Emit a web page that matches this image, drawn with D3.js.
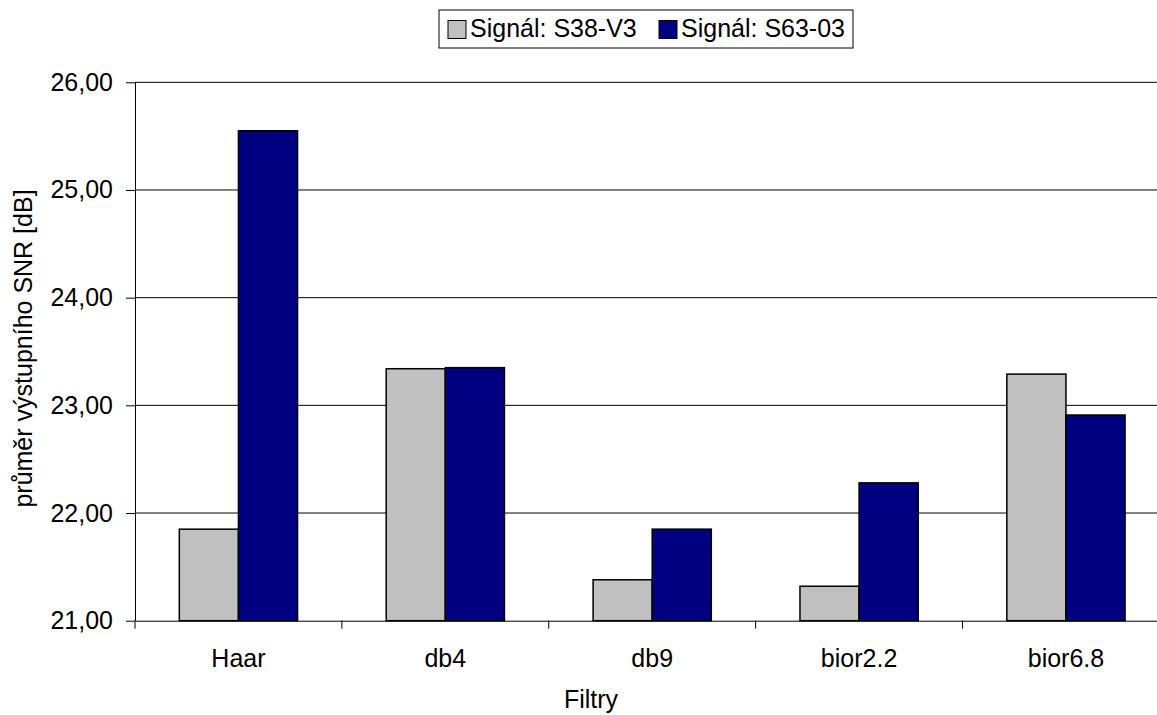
<!DOCTYPE html>
<html>
<head>
<meta charset="utf-8">
<script src="https://cdn.jsdelivr.net/npm/d3@7"></script>
<style>
    body { margin: 0; background: #fff; }
    svg { display: block; font-family: "Liberation Sans", Arial, sans-serif; }
    .axis text { font-size: 25px; fill: #000; }
</style>
</head>
<body>
<div id="chart"></div>
<script>
let categories = ["Haar", "db4", "db9", "bior2.2", "bior6.8"];
let seriesNames = ["Signál: S38-V3", "Signál: S63-03"];
let valuesS38 = [21.85, 23.34, 21.38, 21.32, 23.29];
let valuesS63 = [25.55, 23.35, 21.85, 22.28, 22.91];
let yTicks = [21, 22, 23, 24, 25, 26];
let colors = ["#c0c0c0", "#000080"];

let width = 1157;
let height = 715;
let margin = { left: 135, top: 82.3 };
let plotWidth = 1034.4;
let plotHeight = 538.4;

let svg = d3.select("#chart")
    .append("svg")
    .attr("width", width)
    .attr("height", height);

let dataset = categories.map((c, i) => ({
    cat: c,
    values: [valuesS38[i], valuesS63[i]]
}));

let xScale = d3.scaleBand()
    .domain(categories)
    .range([margin.left, margin.left + plotWidth]);

// gap width 150% like excel
let inner = d3.scaleBand()
    .domain([0, 1])
    .range([0, xScale.bandwidth()])
    .paddingInner(0)
    .paddingOuter(0.75);

let yScale = d3.scaleLinear()
    .domain([21, 26])
    .range([margin.top + plotHeight, margin.top]);

// gridlines
svg.append("g")
    .selectAll("line")
    .data(yTicks.slice(1))
    .enter()
    .append("line")
    .attr("x1", margin.left)
    .attr("x2", margin.left + plotWidth)
    .attr("y1", (d) => yScale(d))
    .attr("y2", (d) => yScale(d))
    .attr("stroke", "#000")
    .attr("stroke-width", 1);

// bars
let groups = svg.append("g")
    .selectAll("g")
    .data(dataset)
    .enter()
    .append("g")
    .attr("transform", (d) => "translate(" + xScale(d.cat) + ",0)");

groups.selectAll("rect")
    .data((d) => d.values)
    .enter()
    .append("rect")
    .attr("x", (d, i) => inner(i))
    .attr("width", inner.bandwidth())
    .attr("y", (d) => yScale(d))
    .attr("height", (d) => yScale(21) - yScale(d))
    .attr("fill", (d, i) => colors[i])
    .attr("stroke", "#000")
    .attr("stroke-width", 1.5);

// y-axis
let yAxis = d3.axisLeft(yScale)
    .tickValues(yTicks)
    .tickFormat((d) => d3.format(".2f")(d).replace(".", ","))
    .tickSize(9)
    .tickPadding(13)
    .tickSizeOuter(0);

let yG = svg.append("g")
    .attr("class", "axis")
    .attr("transform", "translate(" + margin.left + ",0)")
    .call(yAxis);
yG.select(".domain").attr("stroke", "#000");
yG.selectAll(".tick line").attr("stroke", "#000");

// x-axis
let xAxis = d3.axisBottom(xScale)
    .tickSize(0)
    .tickPadding(29)
    .tickSizeOuter(0);

let xG = svg.append("g")
    .attr("class", "axis")
    .attr("transform", "translate(0," + (margin.top + plotHeight) + ")")
    .call(xAxis);
xG.select(".domain").attr("stroke", "#000");

// category boundary ticks
let boundaries = categories.map((c) => xScale(c)).concat([xScale.range()[1]]);
xG.selectAll(".bound")
    .data(boundaries)
    .enter()
    .append("line")
    .attr("class", "bound")
    .attr("x1", (d) => d)
    .attr("x2", (d) => d)
    .attr("y1", 0)
    .attr("y2", 8)
    .attr("stroke", "#000");

// axis titles
svg.append("text")
    .attr("x", 591)
    .attr("y", 708)
    .attr("text-anchor", "middle")
    .style("font-size", "25px")
    .text("Filtry");

svg.append("text")
    .attr("text-anchor", "middle")
    .style("font-size", "25px")
    .attr("transform", "translate(32," + (margin.top + plotHeight / 2 - 3) + ") rotate(-90)")
    .text("průměr výstupního SNR [dB]");

// legend
let legend = svg.append("g").attr("transform", "translate(439,10)");
legend.append("rect")
    .attr("width", 414)
    .attr("height", 38)
    .attr("fill", "#fff")
    .attr("stroke", "#000")
    .attr("stroke-width", 1);

let legendX = [9, 220];
seriesNames.forEach((name, i) => {
    let item = legend.append("g").attr("transform", "translate(" + legendX[i] + ",0)");
    item.append("rect")
        .attr("x", 0)
        .attr("y", 10.5)
        .attr("width", 18)
        .attr("height", 18)
        .attr("fill", colors[i])
        .attr("stroke", "#000")
        .attr("stroke-width", 1);
    item.append("text")
        .attr("x", 22)
        .attr("y", 27)
        .style("font-size", "25px")
        .text(name);
});
</script>
</body>
</html>
